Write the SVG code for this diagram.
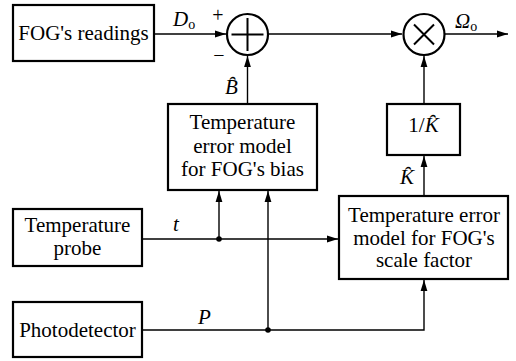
<svg xmlns="http://www.w3.org/2000/svg" width="516" height="361" viewBox="0 0 516 361">
<defs>
<style>
text{font-family:'Liberation Serif','Times New Roman',serif;fill:#000}
.box{fill:#fff;stroke:#000;stroke-width:2.2}
.sym{fill:#fff;stroke:#000;stroke-width:2.2}
.mark{fill:none;stroke:#000;stroke-width:2}
.ln{fill:none;stroke:#000;stroke-width:1.4}
.t{font-size:21px;text-anchor:middle}
.v{font-size:21px;font-style:italic}
.s{font-size:20px;text-anchor:middle}
.sub{font-size:14px;font-style:normal}
</style>
<marker id="arr" markerUnits="userSpaceOnUse" markerWidth="12" markerHeight="8" refX="11" refY="4" orient="auto">
<path d="M0,0.6 L11,4 L0,7.4 Z" fill="#000"/>
</marker>
</defs>
<g id="connectors">
<line class="ln" x1="154" y1="34" x2="226" y2="34" marker-end="url(#arr)"/>
<line class="ln" x1="247.5" y1="104" x2="247.5" y2="56" marker-end="url(#arr)"/>
<line class="ln" x1="269" y1="34" x2="402" y2="34" marker-end="url(#arr)"/>
<line class="ln" x1="445" y1="34" x2="508" y2="34" marker-end="url(#arr)"/>
<line class="ln" x1="424" y1="104" x2="424" y2="56" marker-end="url(#arr)"/>
<line class="ln" x1="424" y1="196" x2="424" y2="156" marker-end="url(#arr)"/>
<line class="ln" x1="142" y1="239" x2="338" y2="239" marker-end="url(#arr)"/>
<line class="ln" x1="219" y1="239" x2="219" y2="191" marker-end="url(#arr)"/>
<polyline class="ln" points="142,330 424,330 424,280" marker-end="url(#arr)"/>
<line class="ln" x1="268" y1="330" x2="268" y2="191" marker-end="url(#arr)"/>
<circle cx="219" cy="239" r="2.8" fill="#000"/>
<circle cx="268" cy="330" r="2.8" fill="#000"/>
</g>
<g id="fog-readings">
<rect class="box" x="13" y="5" width="141" height="56"/>
<text class="t" x="83.5" y="40">FOG's readings</text>
</g>
<g id="sum">
<circle class="sym" cx="247.5" cy="34.5" r="20.5"/>
<path class="mark" d="M231.5,34.5 H263.5 M247.5,18 V51"/>
<text class="s" x="218" y="22">+</text>
<text class="s" x="219" y="62">−</text>
</g>
<g id="multiply">
<circle class="sym" cx="424" cy="34.5" r="20.5"/>
<path class="mark" d="M414,24.5 L434,44.5 M434,24.5 L414,44.5"/>
</g>
<g id="bias-model">
<rect class="box" x="168" y="104" width="149" height="86"/>
<text class="t" x="242.5" y="129">Temperature</text>
<text class="t" x="242.5" y="153">error model</text>
<text class="t" x="242.5" y="176">for FOG's bias</text>
</g>
<g id="inv-k">
<rect class="box" x="387" y="104" width="73" height="51"/>
<text class="t" x="423.5" y="132">1/<tspan font-style="italic">K&#x311;</tspan></text>
</g>
<g id="scale-model">
<rect class="box" x="339" y="196" width="169" height="83"/>
<text class="t" x="424" y="222">Temperature error</text>
<text class="t" x="424" y="244.5">model for FOG's</text>
<text class="t" x="424" y="267">scale factor</text>
</g>
<g id="temp-probe">
<rect class="box" x="13" y="209" width="129" height="57"/>
<text class="t" x="77.5" y="232">Temperature</text>
<text class="t" x="77.5" y="255">probe</text>
</g>
<g id="photodetector">
<rect class="box" x="13" y="302" width="129" height="55"/>
<text class="t" x="77.5" y="337">Photodetector</text>
</g>
<g id="labels">
<text class="v" x="173" y="26">D<tspan class="sub" dy="3">o</tspan></text>
<text class="v" x="225" y="94">B&#x311;</text>
<text class="v" x="455" y="28">Ω<tspan class="sub" dy="3">o</tspan></text>
<text class="v" x="400" y="184">K&#x311;</text>
<text class="v" x="173" y="231">t</text>
<text class="v" x="198" y="324">P</text>
</g>
</svg>
